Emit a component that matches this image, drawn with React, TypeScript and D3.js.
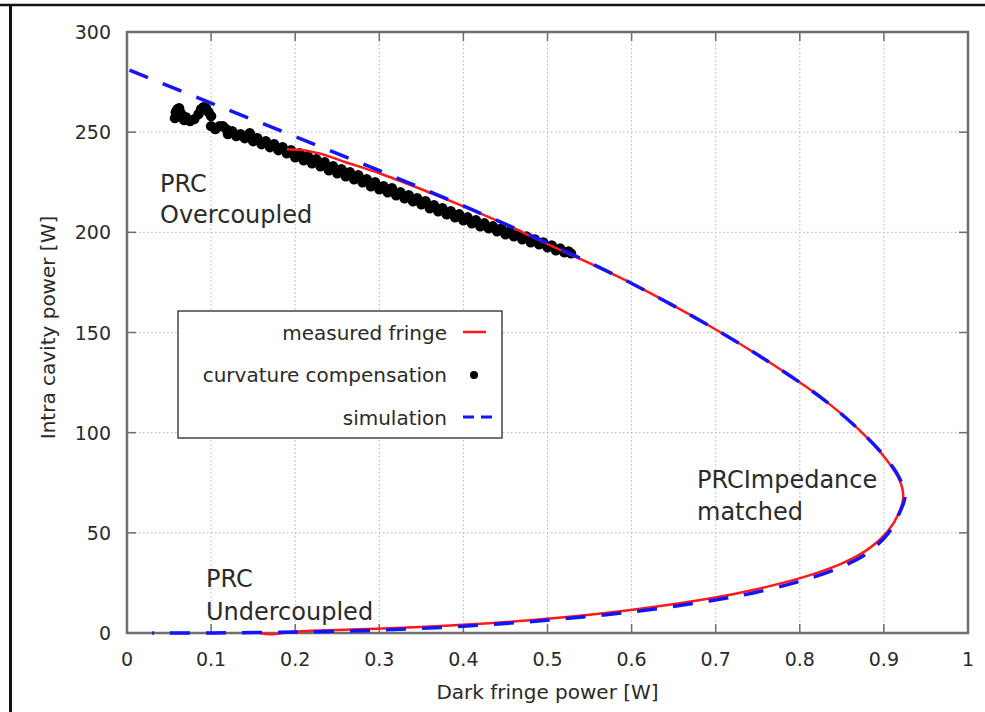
import React from "react";
import * as d3 from "d3";

// ---- data ----
const xTicks = [0, 0.1, 0.2, 0.3, 0.4, 0.5, 0.6, 0.7, 0.8, 0.9, 1];
const xTickLabels = ["0", "0.1", "0.2", "0.3", "0.4", "0.5", "0.6", "0.7", "0.8", "0.9", "1"];
const yTicks = [0, 50, 100, 150, 200, 250, 300];
const yTickLabels = ["0", "50", "100", "150", "200", "250", "300"];

const simX = [0.003, 0.097, 0.193, 0.293, 0.39, 0.493, 0.593, 0.698, 0.768, 0.83, 0.874, 0.905, 0.92, 0.925, 0.9186, 0.9056, 0.8806, 0.849, 0.8015, 0.7445, 0.6925, 0.599, 0.503, 0.404, 0.304, 0.204, 0.104, 0.03];
const simY = [281, 265, 249, 232, 215, 196, 176, 152, 134, 116, 100, 86, 76, 68, 60, 50, 40, 33, 26, 20, 16, 10.5, 6.5, 3.5, 1.5, 0.5, 0.05, 0];

const fringeX = [0.19, 0.21, 0.23, 0.26, 0.3, 0.35, 0.4, 0.45, 0.493, 0.593, 0.698, 0.768, 0.83, 0.874, 0.904, 0.919, 0.923, 0.918, 0.905, 0.88, 0.849, 0.8015, 0.7445, 0.6925, 0.599, 0.503, 0.404, 0.304, 0.204, 0.17, 0.158];
const fringeY = [241.5, 241, 239.2, 235, 229.5, 221.5, 213, 204, 195.5, 176, 152, 134, 116, 100, 86, 76, 68, 60, 51, 41.5, 34.5, 27.5, 21.5, 17.2, 11.5, 7.2, 4.2, 2.2, 0.8, -0.6, 0];

const compPoints: [number, number][] = [
  [0.057, 257], [0.058, 260], [0.06, 261.5], [0.062, 262], [0.064, 259.5], [0.066, 257.5], [0.068, 256],
  [0.07, 257.5], [0.075, 255.5], [0.08, 256.5], [0.085, 259], [0.088, 261.5], [0.091, 262.5], [0.094, 262],
  [0.097, 260], [0.1, 258], [0.1, 253], [0.105, 251.5], [0.11, 253], [0.114, 253], [0.118, 251.5],
  [0.12, 249], [0.125, 250.5], [0.13, 248], [0.135, 249], [0.14, 247], [0.146, 249.5], [0.15, 245.5],
  [0.155, 247], [0.16, 244], [0.165, 245.5], [0.17, 242.5], [0.175, 244], [0.18, 241], [0.185, 242.5],
  [0.19, 239.5], [0.195, 241], [0.2, 237.5], [0.205, 239.5],
  [0.21, 236], [0.215, 238], [0.22, 234.5], [0.225, 236.5], [0.23, 233], [0.235, 235],
  [0.24, 231], [0.245, 233], [0.25, 229.5], [0.255, 231.5], [0.26, 228], [0.265, 230],
  [0.27, 226.5], [0.275, 228.5], [0.28, 225], [0.285, 226.5], [0.29, 223], [0.295, 225],
  [0.3, 221.5], [0.305, 223], [0.31, 220], [0.315, 222], [0.32, 218.5], [0.325, 220],
  [0.33, 217], [0.335, 218.5], [0.34, 215.5], [0.345, 217], [0.35, 214], [0.355, 215.5],
  [0.36, 212], [0.365, 213.5], [0.37, 210.5], [0.375, 212], [0.38, 209], [0.385, 210.5],
  [0.39, 207.5], [0.395, 209], [0.4, 206], [0.405, 207.5], [0.41, 204.5], [0.415, 206],
  [0.42, 203], [0.425, 204.5], [0.43, 202], [0.435, 203], [0.44, 200.5], [0.445, 202],
  [0.45, 199], [0.455, 200.5], [0.46, 198], [0.465, 199], [0.47, 196.5], [0.475, 198],
  [0.48, 195], [0.485, 196.5], [0.49, 194], [0.495, 195], [0.5, 192.5], [0.505, 193.5],
  [0.51, 191], [0.515, 192], [0.52, 190], [0.525, 190.5], [0.528, 189.5],
];

const legendLabels = ["measured fringe", "curvature compensation", "simulation"];

// ---- layout ----
const W = 985;
const H = 712;
const L = 127, R = 968, T = 32, B = 633;
const FONT = "'DejaVu Sans', sans-serif";

export default function App() {
  const x = d3.scaleLinear().domain([0, 1]).range([L, R]);
  const y = d3.scaleLinear().domain([0, 300]).range([B, T]);

  const line = d3
    .line<[number, number]>()
    .x((d) => x(d[0]))
    .y((d) => y(d[1]))
    .curve(d3.curveCatmullRom.alpha(0.5));

  const simPath = line(simX.map((v, i) => [v, simY[i]] as [number, number])) || "";
  const fringePath = line(fringeX.map((v, i) => [v, fringeY[i]] as [number, number])) || "";

  const tickLen = 9;
  const axisColor = "#6e6e6e";
  const textColor = "#2a2a2a";

  return (
    <svg
      width={W}
      height={H}
      style={{ position: "absolute", left: 0, top: 0, background: "#fff" }}
      fontFamily={FONT}
    >
      <rect x={0} y={0} width={W} height={H} fill="#fff" />
      {/* outer frame */}
      <line x1={0} x2={W} y1={5} y2={5} stroke="#111" strokeWidth={2.5} />
      <line x1={10.5} x2={10.5} y1={5} y2={H} stroke="#111" strokeWidth={3} />

      {/* grid */}
      <g stroke="#b4b4b4" strokeWidth={1} strokeDasharray="1.5 2.5">
        {xTicks.slice(1, -1).map((t) => (
          <line key={"gx" + t} x1={x(t)} x2={x(t)} y1={T} y2={B} />
        ))}
        {yTicks.slice(1, -1).map((t) => (
          <line key={"gy" + t} x1={L} x2={R} y1={y(t)} y2={y(t)} />
        ))}
      </g>

      {/* ticks */}
      <g stroke={axisColor} strokeWidth={1.5}>
        {xTicks.map((t) => (
          <g key={"tx" + t}>
            <line x1={x(t)} x2={x(t)} y1={B} y2={B - tickLen} />
            <line x1={x(t)} x2={x(t)} y1={T} y2={T + tickLen} />
          </g>
        ))}
        {yTicks.map((t) => (
          <g key={"ty" + t}>
            <line x1={L} x2={L + tickLen} y1={y(t)} y2={y(t)} />
            <line x1={R} x2={R - tickLen} y1={y(t)} y2={y(t)} />
          </g>
        ))}
      </g>

      {/* frame */}
      <rect x={L} y={T} width={R - L} height={B - T} fill="none" stroke={axisColor} strokeWidth={2.5} />

      {/* tick labels */}
      <g fill={textColor} fontSize={19}>
        {xTicks.map((t, i) => (
          <text key={"lx" + t} x={x(t)} y={666} textAnchor="middle">
            {xTickLabels[i]}
          </text>
        ))}
        {yTicks.map((t, i) => (
          <text key={"ly" + t} x={111} y={y(t) + 7} textAnchor="end">
            {yTickLabels[i]}
          </text>
        ))}
      </g>

      {/* axis labels */}
      <text x={(L + R) / 2} y={699} textAnchor="middle" fontSize={20} fill={textColor}>
        Dark fringe power [W]
      </text>
      <text
        transform={`translate(55, ${(T + B) / 2 - 5}) rotate(-90)`}
        textAnchor="middle"
        fontSize={20}
        fill={textColor}
      >
        Intra cavity power [W]
      </text>

      {/* data */}
      <defs>
        <clipPath id="plotclip">
          <rect x={L} y={T - 5} width={R - L} height={B - T + 10} />
        </clipPath>
      </defs>
      <g clipPath="url(#plotclip)">
        <g fill="#000">
          {compPoints.map((p, i) => (
            <circle key={"c" + i} cx={x(p[0])} cy={y(p[1])} r={5.2} />
          ))}
        </g>
        <path d={fringePath} fill="none" stroke="#ff1a1a" strokeWidth={2.5} />
        <path d={simPath} fill="none" stroke="#1414ff" strokeWidth={3.5} strokeDasharray="20 16" />
      </g>

      {/* annotations */}
      <g fill={textColor} fontSize={24}>
        <text x={160} y={192}>PRC</text>
        <text x={160} y={223}>Overcoupled</text>
        <text x={697} y={488}>PRCImpedance</text>
        <text x={697} y={520}>matched</text>
        <text x={206} y={587}>PRC</text>
        <text x={206} y={620}>Undercoupled</text>
      </g>

      {/* legend */}
      <rect x={178} y={311} width={324} height={127} fill="#fff" stroke="#444" strokeWidth={1.5} />
      <g fill={textColor} fontSize={20} textAnchor="end">
        <text x={447} y={340}>{legendLabels[0]}</text>
        <text x={447} y={382}>{legendLabels[1]}</text>
        <text x={447} y={425}>{legendLabels[2]}</text>
      </g>
      <line x1={463} x2={486} y1={332} y2={332} stroke="#ff1a1a" strokeWidth={2.5} />
      <circle cx={474} cy={375} r={4} fill="#000" />
      <line x1={463} x2={493} y1={417} y2={417} stroke="#1414ff" strokeWidth={3} strokeDasharray="11 7" />
    </svg>
  );
}
